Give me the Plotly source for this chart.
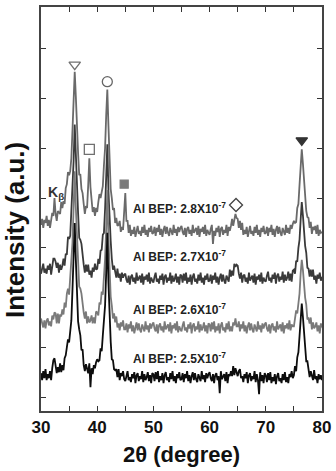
import plotly.graph_objects as go

# XRD scan: 2theta from 30 to 80 deg, step 0.2 deg (251 points)
scan_start = 30.0
scan_step = 0.2

# Intensities (a.u., curves stacked with offsets as in the figure)
bep_28 = [
    173,179,170,178,175,182,172,178,170,178,185,182,200,184,177,187,186,184,196,190,197,194,210,214,226,
    223,227,240,268,302,327,302,268,245,223,224,209,205,194,184,192,190,213,240,211,198,186,191,182,190,
    186,196,204,200,209,212,233,250,283,309,273,236,209,200,188,190,175,180,172,173,177,166,171,168,186,
    205,177,177,165,173,162,168,164,171,161,169,172,164,167,162,171,165,173,163,168,161,170,166,172,164,
    165,171,162,170,166,173,163,169,161,168,172,164,171,165,162,170,167,163,173,165,169,162,171,166,170,
    172,166,163,170,161,169,171,164,168,162,173,165,167,170,163,172,161,169,166,171,164,173,162,168,165,
    163,169,173,154,167,162,170,166,172,161,169,171,163,168,165,173,162,171,167,172,179,172,181,184,180,
    179,170,177,168,175,163,168,164,171,161,169,172,164,167,162,171,165,173,163,168,161,170,166,172,164,
    165,171,162,170,166,173,163,169,161,168,172,164,171,165,162,170,167,163,173,165,170,164,173,169,174,
    177,175,176,190,194,213,231,249,235,216,204,187,181,180,170,176,164,171,168,172,164,173,162,168,165,
    166]
bep_27 = [
    124,130,134,125,129,124,132,128,134,123,134,139,139,136,130,135,125,133,128,132,139,132,144,143,161,
    159,162,186,204,237,274,237,204,185,160,158,154,140,133,125,133,126,133,123,127,120,130,126,134,128,
    129,139,134,147,148,163,165,189,217,254,207,170,157,139,128,132,126,120,129,120,124,116,125,120,123,
    124,118,115,122,113,121,123,116,120,114,125,117,119,122,115,124,113,121,118,123,116,125,114,120,117,
    115,121,125,116,119,114,122,118,124,113,121,123,115,120,117,125,114,122,116,119,124,115,121,113,123,
    122,115,124,117,125,114,120,116,123,113,121,124,116,119,114,123,117,125,115,120,113,122,118,124,116,
    117,123,114,122,118,125,115,121,113,120,124,116,123,117,114,122,119,116,128,121,127,122,134,131,133,
    132,124,119,125,115,122,123,116,120,114,125,117,119,122,115,124,113,121,118,123,116,125,114,120,117,
    116,122,126,117,120,115,123,119,125,114,122,124,116,121,118,126,115,123,117,120,126,117,124,116,127,
    128,124,137,136,150,158,178,196,183,163,152,145,130,129,121,128,121,128,118,122,114,123,119,125,117,
    121]
bep_26 = [
    79,73,70,77,69,77,79,72,76,71,82,78,85,84,74,84,74,83,81,88,83,95,90,104,109,
    103,119,138,155,190,227,190,155,137,111,109,104,90,85,79,86,74,81,75,77,82,74,80,74,86,
    85,82,95,93,106,103,121,139,170,208,160,125,101,92,79,84,75,81,70,74,67,75,71,77,68,
    68,74,65,73,69,76,66,72,64,71,75,67,74,68,65,73,70,66,76,68,72,65,74,69,73,
    75,69,66,73,64,72,74,67,71,65,76,68,70,73,66,75,64,72,69,74,67,76,65,71,68,
    66,72,76,67,70,65,73,69,75,64,72,74,66,71,68,76,65,73,67,70,75,66,72,64,74,
    73,66,75,68,76,65,71,67,74,64,72,75,67,70,65,74,68,76,66,71,66,75,72,79,71,
    71,76,66,73,69,76,66,72,64,71,75,67,74,68,65,73,70,66,76,68,72,65,74,69,73,
    75,69,66,73,64,72,74,67,71,65,76,68,70,73,66,75,64,72,69,74,68,77,67,73,71,
    71,79,87,84,95,104,124,138,128,112,100,93,78,79,74,80,68,75,69,71,75,66,72,64,74,
    70]
bep_25 = [
    24,17,26,19,28,17,23,19,26,17,29,37,39,33,24,30,25,34,25,32,27,39,42,50,58,
    55,71,77,108,138,175,138,107,76,68,62,47,48,32,26,33,29,24,34,10,29,23,32,29,35,
    38,36,37,49,46,62,74,92,125,165,115,78,56,38,37,28,27,28,20,28,17,24,21,26,18,
    16,22,26,17,20,15,23,19,25,14,22,24,16,21,18,26,15,23,17,20,25,16,22,14,24,
    23,16,25,18,26,15,21,17,24,14,22,25,17,20,15,24,18,26,16,21,14,23,19,25,17,
    18,24,15,23,19,26,16,22,14,21,25,17,24,18,15,23,20,16,26,18,22,15,24,19,23,
    25,19,16,23,14,22,24,17,21,4,26,18,20,23,16,25,14,23,21,26,21,31,22,29,25,
    21,26,28,19,21,15,23,19,25,14,22,24,16,21,18,26,15,23,17,3,25,16,22,14,24,
    22,15,24,17,25,14,20,16,23,13,21,24,16,19,14,23,17,25,15,20,14,23,20,26,19,
    22,31,26,40,45,61,77,94,81,65,52,36,36,26,20,26,22,17,27,18,21,14,23,18,22,
    17]

series_names = ["Al BEP: 2.8X10<sup>-7</sup>", "Al BEP: 2.7X10<sup>-7</sup>",
                "Al BEP: 2.6X10<sup>-7</sup>", "Al BEP: 2.5X10<sup>-7</sup>"]
series_values = [bep_28, bep_27, bep_26, bep_25]
series_colors = ["#6a6a6a", "#3a3a3a", "#7a7a7a", "#0d0d0d"]
label_x = [46.0, 46.0, 46.0, 46.0]
label_y = [190, 142, 89, 39]

# peak identification symbols
peak_marker_x = [36.0, 41.8, 38.6, 44.8, 64.7, 76.4]
peak_marker_y = [334, 317, 249, 214, 193, 258]
peak_marker_symbol = ["triangle-down-open", "circle-open", "square-open", "square",
                      "diamond-open", "triangle-down"]
peak_marker_color = ["#707070", "#666666", "#707070", "#7a7a7a", "#444444", "#333333"]

x_ticks = [30, 40, 50, 60, 70, 80]
y_ticks = [0, 50, 100, 150, 200, 250, 300, 350]

for v in series_values:
    assert len(v) == 251, len(v)

two_theta = [round(scan_start + scan_step * i, 2) for i in range(251)]

fig = go.Figure()
for name, vals, col in zip(series_names, series_values, series_colors):
    fig.add_trace(go.Scatter(x=two_theta, y=vals, mode="lines", name=name,
                             line=dict(color=col, width=1.8), showlegend=False))

for xm, ym, sym, col in zip(peak_marker_x, peak_marker_y, peak_marker_symbol, peak_marker_color):
    fig.add_trace(go.Scatter(x=[xm], y=[ym], mode="markers", showlegend=False,
                             marker=dict(symbol=sym, size=10 if sym != "square" else 8,
                                         color=col, line=dict(color=col, width=1.3))))

font_family = "Liberation Sans, Arial, sans-serif"
annotations = []
for name, lx, ly in zip(series_names, label_x, label_y):
    annotations.append(dict(x=lx, y=ly, xref="x", yref="y", text="<b>" + name + "</b>",
                            showarrow=False, xanchor="left", yanchor="middle",
                            font=dict(family=font_family, size=12, color="#222222")))
annotations.append(dict(x=30.9, y=205, xref="x", yref="y", text="<b>K<sub>β</sub></b>",
                        showarrow=False, xanchor="left", yanchor="middle",
                        font=dict(family=font_family, size=14, color="#333333")))
annotations.append(dict(x=0.5, y=(411 - 455) / 406, xref="paper", yref="paper",
                        text="<b>2θ (degree)</b>", showarrow=False, xanchor="center",
                        yanchor="middle", font=dict(family=font_family, size=22, color="#111111")))
annotations.append(dict(x=(15 - 41) / 287, y=(411 - 320) / 406, xref="paper", yref="paper",
                        text="<b>Intensity (a.u.)</b>", textangle=-90, showarrow=False,
                        xanchor="center", yanchor="bottom",
                        font=dict(family=font_family, size=26, color="#111111")))

fig.update_layout(
    width=336, height=471,
    margin=dict(l=41, r=8, t=5, b=60),
    paper_bgcolor="white", plot_bgcolor="white",
    annotations=annotations,
    xaxis=dict(range=[30, 80], tickvals=x_ticks, ticks="inside", ticklen=5, tickwidth=1.2,
               tickcolor="#333333", showline=True, linecolor="#444444", linewidth=1.5,
               mirror="ticks", showgrid=False, zeroline=False, ticklabeloverflow="allow",
               tickfont=dict(family=font_family, size=17, color="#111111", weight="bold"),
               minor=dict(dtick=5, tick0=30, ticks="inside", ticklen=5, tickwidth=1.2,
                          tickcolor="#333333", showgrid=False)),
    yaxis=dict(range=[-14, 392], tickvals=y_ticks, ticks="inside", ticklen=5, tickwidth=1.2,
               tickcolor="#333333", showticklabels=False, showline=True, linecolor="#444444",
               linewidth=1.5, mirror="ticks", showgrid=False, zeroline=False),
)

fig.write_html("out.html")
